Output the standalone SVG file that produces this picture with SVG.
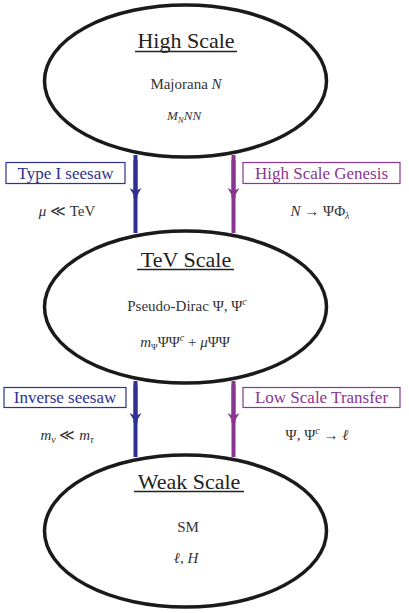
<svg xmlns="http://www.w3.org/2000/svg" width="409" height="613" viewBox="0 0 409 613" font-family="Liberation Serif">
<style>
.node{fill:#fff;stroke:#1a1a1a;stroke-width:3.5}
.t{font-family:'Liberation Serif',serif;fill:#333;text-anchor:middle}
.title{font-size:22px;fill:#222}
.body{font-size:15px}
.m{font-style:italic}
.ul{stroke:#222;stroke-width:1.3}
.blue{stroke:#2e3192;stroke-width:4;fill:none}
.purple{stroke:#8a3590;stroke-width:4;fill:none}
.bl{fill:#fff;stroke:#2e3192;stroke-width:1.2}
.pl{fill:#fff;stroke:#8a3590;stroke-width:1.2}
.btx{fill:#2e3192;font-size:17px}
.ptx{fill:#8a3590;font-size:17px}
</style>
<defs>
<marker id="ab" viewBox="0 0 10 12" refX="10" refY="6" markerWidth="10" markerHeight="12" markerUnits="userSpaceOnUse" orient="auto"><path d="M0,0 L10,6 L0,12 L3,6 Z" fill="#2e3192"/></marker>
<marker id="ap" viewBox="0 0 10 12" refX="10" refY="6" markerWidth="10" markerHeight="12" markerUnits="userSpaceOnUse" orient="auto"><path d="M0,0 L10,6 L0,12 L3,6 Z" fill="#8a3590"/></marker>
</defs>
<g id="connectors">
<line class="blue" x1="135.5" y1="155" x2="135.5" y2="233"/>
<line class="blue" x1="135.5" y1="160" x2="135.5" y2="198" marker-end="url(#ab)"/>
<line class="purple" x1="233.5" y1="155" x2="233.5" y2="233"/>
<line class="purple" x1="233.5" y1="160" x2="233.5" y2="198" marker-end="url(#ap)"/>
<line class="blue" x1="135.5" y1="381" x2="135.5" y2="457"/>
<line class="blue" x1="135.5" y1="385" x2="135.5" y2="423" marker-end="url(#ab)"/>
<line class="purple" x1="233.5" y1="381" x2="233.5" y2="457"/>
<line class="purple" x1="233.5" y1="385" x2="233.5" y2="423" marker-end="url(#ap)"/>
<g id="lbl-type1">
<rect class="bl" x="6" y="162.5" width="119" height="21"/>
<text class="t btx" x="65.5" y="179">Type I seesaw</text>
<text class="t body" x="67" y="216"><tspan class="m">μ</tspan> ≪ TeV</text>
</g>
<g id="lbl-hsg">
<rect class="pl" x="243" y="162.5" width="157" height="21"/>
<text class="t ptx" x="321.5" y="179">High Scale Genesis</text>
<text class="t body" x="320" y="216"><tspan class="m">N</tspan> → ΨΦ<tspan class="m" font-size="10" dy="3">λ</tspan></text>
</g>
<g id="lbl-inverse">
<rect class="bl" x="4" y="387.5" width="122" height="20"/>
<text class="t btx" x="65" y="403">Inverse seesaw</text>
<text class="t body" x="67" y="440"><tspan class="m">m</tspan><tspan class="m" font-size="10" dy="3">ν</tspan><tspan dy="-3"> ≪ </tspan><tspan class="m">m</tspan><tspan class="m" font-size="10" dy="3">τ</tspan></text>
</g>
<g id="lbl-lst">
<rect class="pl" x="243" y="387.5" width="157" height="20"/>
<text class="t ptx" x="321.5" y="403">Low Scale Transfer</text>
<text class="t body" x="317" y="440">Ψ, Ψ<tspan font-size="10" dy="-6" class="m">c</tspan><tspan dy="6"> → </tspan><tspan class="m">ℓ</tspan></text>
</g>
</g>
<g id="high">
<ellipse class="node" cx="185.5" cy="81" rx="141" ry="76"/>
<text class="t title" x="186" y="48">High Scale</text>
<line class="ul" x1="135" y1="51.5" x2="237" y2="51.5"/>
<text class="t body" x="186" y="89">Majorana <tspan class="m">N</tspan></text>
<text class="t m" x="184" y="120" font-size="13">M<tspan font-size="9" dy="3">N</tspan><tspan dy="-3">NN</tspan></text>
</g>
<g id="tev">
<ellipse class="node" cx="185.5" cy="307" rx="141" ry="76"/>
<text class="t title" x="186" y="267">TeV Scale</text>
<line class="ul" x1="137" y1="269.5" x2="234" y2="269.5"/>
<text class="t body" x="187" y="311">Pseudo-Dirac Ψ, Ψ<tspan font-size="10" dy="-6" class="m">c</tspan></text>
<text class="t body" x="185" y="347"><tspan class="m">m</tspan><tspan font-size="9" dy="3">Ψ</tspan><tspan dy="-3">ΨΨ</tspan><tspan font-size="10" dy="-6" class="m">c</tspan><tspan dy="6"> + </tspan><tspan class="m">μ</tspan>ΨΨ</text>
</g>
<g id="weak">
<ellipse class="node" cx="185.5" cy="531" rx="141" ry="76"/>
<text class="t title" x="189" y="489">Weak Scale</text>
<line class="ul" x1="134" y1="491.5" x2="244" y2="491.5"/>
<text class="t body" x="188" y="532">SM</text>
<text class="t body" x="186" y="563"><tspan class="m">ℓ</tspan>, <tspan class="m">H</tspan></text>
</g>
</svg>
